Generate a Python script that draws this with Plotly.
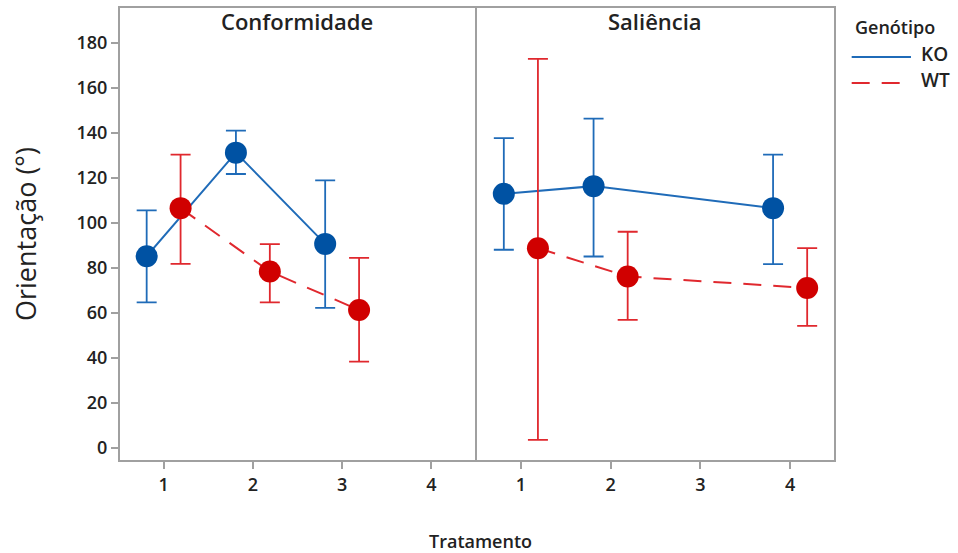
import plotly.graph_objects as go

# Treatment levels per panel
panels = ["Conformidade", "Saliência"]
treat_conf = [1, 2, 3]
treat_sal = [1, 2, 4]

# Means and confidence interval limits (degrees)
ko_conf_mean = [85.1, 131.2, 90.6]
ko_conf_upper = [105.5, 141.0, 118.9]
ko_conf_lower = [64.6, 121.7, 62.1]

wt_conf_mean = [106.5, 78.3, 61.2]
wt_conf_upper = [130.3, 90.5, 84.4]
wt_conf_lower = [81.7, 64.6, 38.2]

ko_sal_mean = [112.9, 116.3, 106.5]
ko_sal_upper = [137.7, 146.3, 130.3]
ko_sal_lower = [88.0, 85.0, 81.6]

wt_sal_mean = [88.7, 76.1, 71.0]
wt_sal_upper = [172.9, 96.0, 88.7]
wt_sal_lower = [3.4, 56.8, 54.1]

y_ticks = [0, 20, 40, 60, 80, 100, 120, 140, 160, 180]
x_ticks = [1, 2, 3, 4]
genotypes = ["KO", "WT"]

KO_LINE = "#1f6bb8"
KO_MARK = "#0052a3"
WT_LINE = "#e0282e"
WT_MARK = "#d00000"
FRAME = "#a0a0a0"
TEXT = "#222222"
FONT = "Open Sans"
DODGE = 0.19
WT_DASH = "18px,12px"

fig = go.Figure()


def add_series(xs, mean, upper, lower, offset, line_color, mark_color, dash, xaxis):
    fig.add_trace(go.Scatter(
        x=[v + offset for v in xs],
        y=mean,
        mode="lines+markers",
        line=dict(color=line_color, width=2, dash=dash),
        marker=dict(color=mark_color, size=22),
        error_y=dict(
            type="data",
            symmetric=False,
            array=[u - m for u, m in zip(upper, mean)],
            arrayminus=[m - l for m, l in zip(mean, lower)],
            color=line_color,
            thickness=1.8,
            width=10,
        ),
        showlegend=False,
        xaxis=xaxis,
        yaxis="y",
        hoverinfo="skip",
    ))


add_series(treat_conf, ko_conf_mean, ko_conf_upper, ko_conf_lower, -DODGE, KO_LINE, KO_MARK, "solid", "x")
add_series(treat_conf, wt_conf_mean, wt_conf_upper, wt_conf_lower, DODGE, WT_LINE, WT_MARK, WT_DASH, "x")
add_series(treat_sal, ko_sal_mean, ko_sal_upper, ko_sal_lower, -DODGE, KO_LINE, KO_MARK, "solid", "x2")
add_series(treat_sal, wt_sal_mean, wt_sal_upper, wt_sal_lower, DODGE, WT_LINE, WT_MARK, WT_DASH, "x2")

tick_font = dict(family=FONT, size=18, color=TEXT, weight=600)

axis_common = dict(
    range=[0.5, 4.5],
    tickvals=x_ticks,
    ticks="outside",
    ticklen=7,
    tickcolor=FRAME,
    tickwidth=1.5,
    showline=False,
    showgrid=False,
    zeroline=False,
    tickfont=tick_font,
    fixedrange=True,
)

fig.update_layout(
    width=958,
    height=553,
    margin=dict(l=119, r=123, t=7, b=92),
    paper_bgcolor="white",
    plot_bgcolor="white",
    font=dict(family=FONT, color=TEXT),
    showlegend=False,
    xaxis=dict(domain=[0, 0.4986], anchor="y", **axis_common),
    xaxis2=dict(domain=[0.4986, 1], anchor="y", **axis_common),
    yaxis=dict(
        range=[-6, 196],
        tickvals=y_ticks,
        ticks="outside",
        ticklen=7,
        tickcolor=FRAME,
        tickwidth=1.5,
        showline=False,
        showgrid=False,
        zeroline=False,
        tickfont=tick_font,
        fixedrange=True,
    ),
)

# Panel frames
shapes = []
for xa in ["x", "x2"]:
    shapes.append(dict(
        type="rect", xref=f"{xa} domain", yref="y domain",
        x0=0, x1=1, y0=0, y1=1,
        line=dict(color=FRAME, width=2), layer="below",
    ))

# Legend keys (drawn in paper space to the right of the panels)
legend_rows = [
    (genotypes[0], KO_LINE, "solid", 0.890, 0.8965),
    (genotypes[1], WT_LINE, WT_DASH, 0.8326, 0.839),
]
for name, color, dash, y_line, y_text in legend_rows:
    shapes.append(dict(
        type="line", xref="paper", yref="paper",
        x0=1.0233, x1=1.1061, y0=y_line, y1=y_line,
        line=dict(color=color, width=2, dash=dash),
    ))

annotations = [
    dict(text=panels[0], x=0.2493, y=1, xref="paper", yref="paper",
         xanchor="center", yanchor="middle", yshift=-14, showarrow=False,
         font=dict(family=FONT, size=22, color=TEXT, weight=600)),
    dict(text=panels[1], x=0.7493, y=1, xref="paper", yref="paper",
         xanchor="center", yanchor="middle", yshift=-14, showarrow=False,
         font=dict(family=FONT, size=22, color=TEXT, weight=600)),
    dict(text="Tratamento", x=0.5, y=0, xref="paper", yref="paper",
         xanchor="center", yanchor="middle", xshift=3, yshift=-80, showarrow=False,
         font=dict(family=FONT, size=18, color=TEXT, weight=600)),
    dict(text="Orientação (°)", x=0, y=0.5, xref="paper", yref="paper",
         xanchor="center", yanchor="middle", xshift=-94, textangle=-90,
         showarrow=False, font=dict(family=FONT, size=27, color=TEXT)),
    dict(text="Genótipo", x=1.0247, y=0.956, xref="paper", yref="paper",
         xanchor="left", yanchor="middle", showarrow=False,
         font=dict(family=FONT, size=18, color=TEXT, weight=600)),
]
for name, color, dash, y_line, y_text in legend_rows:
    annotations.append(dict(
        text=name, x=1.117, y=y_text, xref="paper", yref="paper",
        xanchor="left", yanchor="middle", showarrow=False,
        font=dict(family=FONT, size=19, color=TEXT, weight=600),
    ))

fig.update_layout(shapes=shapes, annotations=annotations)

fig.write_html("out.html")
